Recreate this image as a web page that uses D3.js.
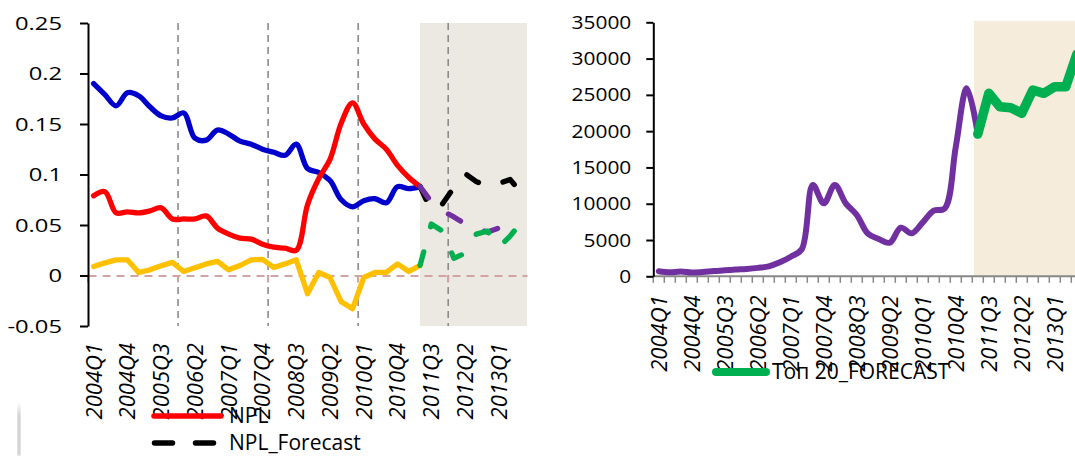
<!DOCTYPE html>
<html>
<head>
<meta charset="utf-8">
<script src="https://cdn.jsdelivr.net/npm/d3@7"></script>
<style>
  html, body { margin: 0; padding: 0; background: #ffffff; }
  svg { display: block; font-family: "Open Sans", "Noto Sans", sans-serif; }
</style>
</head>
<body>
<svg id="chart" width="1075" height="456"></svg>
<script>
// ---- categories -------------------------------------------------------
const categories = [
  "2004Q1","2004Q2","2004Q3","2004Q4","2005Q1","2005Q2","2005Q3","2005Q4",
  "2006Q1","2006Q2","2006Q3","2006Q4","2007Q1","2007Q2","2007Q3","2007Q4",
  "2008Q1","2008Q2","2008Q3","2008Q4","2009Q1","2009Q2","2009Q3","2009Q4",
  "2010Q1","2010Q2","2010Q3","2010Q4","2011Q1","2011Q2","2011Q3","2011Q4",
  "2012Q1","2012Q2","2012Q3","2012Q4","2013Q1","2013Q2","2013Q3"
];
const axisLabels = ["2004Q1","2004Q4","2005Q3","2006Q2","2007Q1","2007Q4","2008Q3",
                    "2009Q2","2010Q1","2010Q4","2011Q3","2012Q2","2013Q1"];
const yearBreaks = ["2006Q1","2008Q1","2010Q1","2012Q1"];
const forecastFrom = "2011Q2";

// ---- left panel: ratios ----------------------------------------------
const npl = [0.079,0.083,0.062,0.063,0.062,0.064,0.067,0.056,0.056,0.056,
             0.059,0.047,0.041,0.037,0.036,0.031,0.028,0.027,0.025,0.070,
             0.096,0.115,0.151,0.171,0.150,0.135,0.125,0.109,0.097,0.088];
const nplForecast = [0.088,0.064,0.071,0.087,0.101,0.093,0.088,0.091,0.095,0.082];

const ratioB = [0.190,0.179,0.168,0.181,0.178,0.167,0.158,0.156,0.161,0.136,
                0.134,0.144,0.140,0.133,0.130,0.125,0.122,0.119,0.130,0.106,
                0.102,0.094,0.075,0.068,0.074,0.076,0.072,0.088,0.086,0.088];
const ratioBForecast = [0.088,0.073,0.064,0.058,0.051,0.046,0.043,0.047,0.040,0.040];

const ratioC = [0.009,0.0125,0.0155,0.0155,0.003,0.0056,0.0096,0.013,0.004,0.0076,
                0.0115,0.014,0.0056,0.0099,0.0155,0.016,0.008,0.0115,0.0155,-0.018,
                0.003,-0.002,-0.026,-0.033,-0.002,0.003,0.003,0.0115,0.004,0.010];
const ratioCForecast = [0.010,0.051,0.044,0.017,0.022,0.041,0.044,0.028,0.039,0.053];

const leftTicks = [-0.05, 0, 0.05, 0.1, 0.15, 0.2, 0.25];

// ---- right panel: top 20 volume --------------------------------------
const top20 = [700,550,660,520,600,730,820,930,1020,1160,
               1370,1920,2700,3740,12580,10050,12580,10050,8450,5900,
               5140,4630,6700,5920,7440,9040,9370,17860,25900,19600];
const top20Forecast = [19600,25210,23370,23230,22460,25670,25210,26130,26130,30590];
const rightTicks = [0, 5000, 10000, 15000, 20000, 25000, 30000, 35000];

// ---- helpers -----------------------------------------------------------
const svg = d3.select("#chart");
const startIdx = categories.indexOf(forecastFrom);
const toPoints = (values, offset) => values.map((v, i) => ({ c: categories[i + offset], v }));
const center = (scale, c) => scale(c) + scale.bandwidth() / 2;
const fmtRatio = d => String(+d.toFixed(2));
const FONT = "'Open Sans', sans-serif";

const COLORS = {
  red: "#FF0000", black: "#000000", blue: "#0000CC",
  purple: "#7030A0", yellow: "#FFC000", green: "#00B050"
};

// value-axis labels are drawn slightly widened
function styleValueAxis(g, offset, stretch) {
  g.select(".domain").attr("stroke", "#000").attr("stroke-width", 2);
  g.selectAll(".tick line").attr("stroke", "#000").attr("stroke-width", 2);
  g.selectAll("text")
    .attr("font-size", 19).attr("fill", "#000").attr("font-family", FONT)
    .attr("x", -offset / stretch)
    .attr("transform", `scale(${stretch},1)`);
}

function styleCategoryLabels(g, gap) {
  g.select(".domain").remove();
  g.selectAll("text")
    .attr("transform", "rotate(-90)")
    .attr("x", -gap).attr("y", 0).attr("dy", "0.36em")
    .style("text-anchor", "end")
    .attr("font-size", 22).attr("font-style", "italic").attr("fill", "#000")
    .attr("font-family", FONT);
}

// =======================================================================
// Left panel
// =======================================================================
const L = { left: 88, right: 527, top: 23, bottom: 326 };
const xL = d3.scaleBand().domain(categories).range([L.left, L.right]);
const yL = d3.scaleLinear().domain([-0.05, 0.25]).range([L.bottom, L.top]);

// forecast area
svg.append("rect")
  .attr("x", center(xL, forecastFrom))
  .attr("y", L.top)
  .attr("width", L.right - center(xL, forecastFrom))
  .attr("height", L.bottom - L.top)
  .attr("fill", "#ECE8E2");

// year gridlines
svg.append("g").selectAll("line").data(yearBreaks).join("line")
  .attr("x1", d => xL(d)).attr("x2", d => xL(d))
  .attr("y1", L.top).attr("y2", L.bottom)
  .attr("stroke", "#8C8C8C").attr("stroke-width", 1.6)
  .attr("stroke-dasharray", "7,5");

// category axis along zero
const zeroAxis = svg.append("g")
  .attr("transform", `translate(0,${yL(0)})`)
  .call(d3.axisBottom(xL).tickValues([]).tickSizeOuter(0));
zeroAxis.select(".domain")
  .attr("stroke", "#D4A3A3").attr("stroke-width", 2).attr("stroke-dasharray", "8,6");
zeroAxis.selectAll(".mark").data([categories[0], ...yearBreaks]).join("line")
  .attr("class", "mark")
  .attr("x1", d => xL(d)).attr("x2", d => xL(d))
  .attr("y1", 0).attr("y2", 7)
  .attr("stroke", "#D4A3A3").attr("stroke-width", 2);

// value axis
const leftAxis = svg.append("g")
  .attr("transform", `translate(${L.left},0)`)
  .call(d3.axisLeft(yL).tickValues(leftTicks).tickFormat(fmtRatio)
        .tickSize(8).tickPadding(18).tickSizeOuter(0));
styleValueAxis(leftAxis, 26, 1.25);

// category labels
const leftCats = svg.append("g")
  .attr("transform", `translate(0,${L.bottom})`)
  .call(d3.axisBottom(xL).tickValues(axisLabels).tickSize(0));
styleCategoryLabels(leftCats, 17);

// series
const lineL = curve => d3.line()
  .x(d => center(xL, d.c)).y(d => yL(d.v)).curve(curve);

const smooth = d3.curveCatmullRom.alpha(0.5);
const DASH = "14,26";
const leftSeries = [
  { pts: toPoints(ratioB, 0), color: COLORS.blue, curve: smooth, dash: null },
  { pts: toPoints(npl, 0), color: COLORS.red, curve: smooth, dash: null },
  { pts: toPoints(ratioC, 0), color: COLORS.yellow, curve: d3.curveLinear, dash: null },
  { pts: toPoints(nplForecast, startIdx), color: COLORS.black, curve: d3.curveLinear, dash: DASH },
  { pts: toPoints(ratioBForecast, startIdx), color: COLORS.purple, curve: d3.curveLinear, dash: DASH },
  { pts: toPoints(ratioCForecast, startIdx), color: COLORS.green, curve: d3.curveLinear, dash: DASH }
];
svg.append("g").selectAll("path").data(leftSeries).join("path")
  .attr("d", s => lineL(s.curve)(s.pts))
  .attr("fill", "none")
  .attr("stroke", s => s.color)
  .attr("stroke-width", 5.3)
  .attr("stroke-linecap", "round")
  .attr("stroke-linejoin", "round")
  .attr("stroke-dasharray", s => s.dash);

// legend
const legL = svg.append("g").attr("font-size", 21).attr("fill", "#000").attr("font-family", FONT);
legL.append("line").attr("x1", 154).attr("x2", 221).attr("y1", 416).attr("y2", 416)
  .attr("stroke", COLORS.red).attr("stroke-width", 5.5).attr("stroke-linecap", "round");
legL.append("text").attr("x", 229).attr("y", 423).text("NPL");
legL.append("line").attr("x1", 154.5).attr("x2", 215).attr("y1", 443).attr("y2", 443)
  .attr("stroke", COLORS.black).attr("stroke-width", 5.5).attr("stroke-linecap", "round")
  .attr("stroke-dasharray", "18,23");
legL.append("text").attr("x", 229).attr("y", 450).text("NPL_Forecast");

// soft frame edge at lower left
const defs = svg.append("defs");
defs.append("filter").attr("id", "soft").append("feGaussianBlur").attr("stdDeviation", 0.9);
const fade = defs.append("linearGradient").attr("id", "edgeFade")
  .attr("x1", 0).attr("y1", 0).attr("x2", 0).attr("y2", 1);
fade.append("stop").attr("offset", 0).attr("stop-color", "#C6C6C6").attr("stop-opacity", 0);
fade.append("stop").attr("offset", 0.25).attr("stop-color", "#C6C6C6").attr("stop-opacity", 1);
fade.append("stop").attr("offset", 1).attr("stop-color", "#C6C6C6").attr("stop-opacity", 1);
svg.append("rect").attr("x", 17.5).attr("y", 402).attr("width", 3).attr("height", 54)
  .attr("fill", "url(#edgeFade)").attr("filter", "url(#soft)");

// =======================================================================
// Right panel
// =======================================================================
const R = { left: 653.3, top: 22.3, bottom: 276.3 };
const xR = d3.scaleBand().domain(categories).range([R.left, R.left + 11 * categories.length]);
const yR = d3.scaleLinear().domain([0, 35000]).range([R.bottom, R.top]);

svg.append("rect")
  .attr("x", xR(forecastFrom) + xR.bandwidth() * 0.15)
  .attr("y", R.top - 1.5)
  .attr("width", 1075 - xR(forecastFrom))
  .attr("height", R.bottom - R.top + 1.5)
  .attr("fill", "#F5ECDC");

// category axis with a tick at every quarter boundary
const bottomR = svg.append("g").attr("transform", `translate(0,${R.bottom})`);
bottomR.append("line")
  .attr("x1", R.left).attr("x2", xR.range()[1])
  .attr("stroke", "#888888").attr("stroke-width", 2);
bottomR.selectAll(".q").data(categories).join("line")
  .attr("class", "q")
  .attr("x1", d => xR(d)).attr("x2", d => xR(d))
  .attr("y1", 0).attr("y2", 6.5)
  .attr("stroke", "#888888").attr("stroke-width", 1.5);

const rightCats = svg.append("g")
  .attr("transform", `translate(0,${R.bottom})`)
  .call(d3.axisBottom(xR).tickValues(axisLabels).tickSize(0));
styleCategoryLabels(rightCats, 19);

const rightAxis = svg.append("g")
  .attr("transform", `translate(${R.left},0)`)
  .call(d3.axisLeft(yR).tickValues(rightTicks).tickFormat(d3.format("d"))
        .tickSize(7).tickPadding(15).tickSizeOuter(0));
styleValueAxis(rightAxis, 22, 1.1);

const lineR = curve => d3.line()
  .x(d => center(xR, d.c)).y(d => yR(d.v)).curve(curve);

svg.append("path")
  .attr("d", lineR(smooth)(toPoints(top20, 0)))
  .attr("fill", "none").attr("stroke", COLORS.purple)
  .attr("stroke-width", 6).attr("stroke-linecap", "round").attr("stroke-linejoin", "round");
svg.append("path")
  .attr("d", lineR(d3.curveLinear)(toPoints(top20Forecast, startIdx)))
  .attr("fill", "none").attr("stroke", COLORS.green)
  .attr("stroke-width", 9.5).attr("stroke-linecap", "round").attr("stroke-linejoin", "round");

// legend
const legR = svg.append("g").attr("font-size", 21).attr("fill", "#000").attr("font-family", FONT);
legR.append("line").attr("x1", 716).attr("x2", 766).attr("y1", 372).attr("y2", 372)
  .attr("stroke", COLORS.green).attr("stroke-width", 8).attr("stroke-linecap", "round");
legR.append("text").attr("x", 772).attr("y", 379).text("Топ 20_FORECAST");
</script>
</body>
</html>
